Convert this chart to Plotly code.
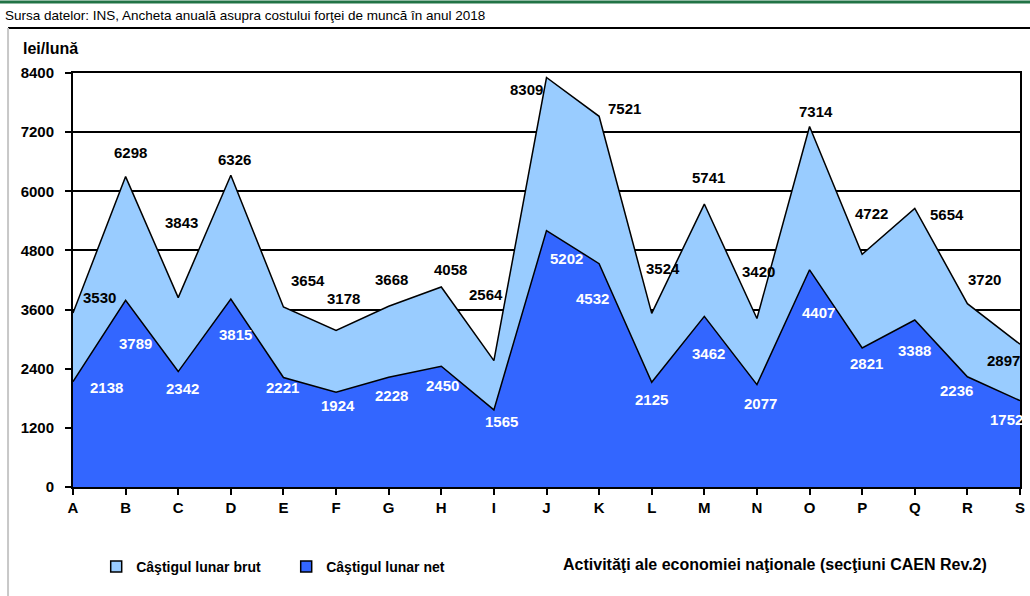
import plotly.graph_objects as go

# sectiuni CAEN Rev.2
sectiuni = ['A', 'B', 'C', 'D', 'E', 'F', 'G', 'H', 'I', 'J',
            'K', 'L', 'M', 'N', 'O', 'P', 'Q', 'R', 'S']
brut = [3530, 6298, 3843, 6326, 3654, 3178, 3668, 4058, 2564, 8309,
        7521, 3524, 5741, 3420, 7314, 4722, 5654, 3720, 2897]
net = [2138, 3789, 2342, 3815, 2221, 1924, 2228, 2450, 1565, 5202,
       4532, 2125, 3462, 2077, 4407, 2821, 3388, 2236, 1752]
y_ticks = [0, 1200, 2400, 3600, 4800, 6000, 7200, 8400]

# label offsets in px (Excel placed them by hand, more or less)
brut_dx = [26, 5, 3, 4, 25, 7, 3, 9, -8, -20, 25, 11, 4, 2, 6, 9, 32, 17, -17]
brut_dy = [16, 24, 75, 16, 26, 32, 27, 18, 66, -12, 8, 45, 27, 47, 15, 41, -6, 24, -16]
net_dx = [33, 10, 4, 5, -1, 2, 3, 1, 8, 20, -7, 0, 4, 4, 9, 4, 0, -11, -14]
net_dy = [-6, -43, -17, -36, -10, -13, -18, -19, -12, -28, -35, -17, -37, -19, -43, -16, -30, -14, -19]

FONT = 'Liberation Sans, Arial, sans-serif'
LIGHT = '#99CCFF'
DARK = '#3366FF'

fig = go.Figure()
fig.add_trace(go.Scatter(x=sectiuni, y=brut, mode='lines', fill='tozeroy',
                         fillcolor=LIGHT, line=dict(color='black', width=1.5),
                         showlegend=False, name='Câştigul lunar brut'))
fig.add_trace(go.Scatter(x=sectiuni, y=net, mode='lines', fill='tozeroy',
                         fillcolor=DARK, line=dict(color='black', width=1.5),
                         showlegend=False, name='Câştigul lunar net'))
# legend entries as small squares, like Excel
for name, col in [('Câştigul lunar brut', LIGHT), ('Câştigul lunar net', DARK)]:
    fig.add_trace(go.Scatter(x=[None], y=[None], mode='markers', name=name,
                             marker=dict(symbol='square', size=11, color=col,
                                         line=dict(color='black', width=1.5))))

annotations = []
for i, s in enumerate(sectiuni):
    annotations.append(dict(x=s, y=brut[i], text=str(brut[i]), showarrow=False,
                            xshift=brut_dx[i], yshift=brut_dy[i],
                            font=dict(family=FONT, size=15, color='black', weight='bold')))
    annotations.append(dict(x=s, y=net[i], text=str(net[i]), showarrow=False,
                            xshift=net_dx[i], yshift=net_dy[i],
                            font=dict(family=FONT, size=15, color='white', weight='bold')))

annotations.append(dict(xref='paper', yref='paper', x=-0.0739, y=1.140, xanchor='left',
                        yanchor='middle', showarrow=False,
                        text='Sursa datelor: INS, Ancheta anuală asupra costului forţei de muncă în anul 2018',
                        font=dict(family=FONT, size=13.5, color='black')))
annotations.append(dict(xref='paper', yref='paper', x=-0.0549, y=1.060, xanchor='left',
                        yanchor='middle', showarrow=False, text='lei/lună',
                        font=dict(family=FONT, size=16, color='black', weight='bold')))
annotations.append(dict(xref='paper', yref='paper', x=0.7413, y=-0.1884, xanchor='center',
                        yanchor='middle', showarrow=False,
                        text='Activităţi ale economiei naţionale (secţiuni CAEN Rev.2)',
                        font=dict(family=FONT, size=16, color='black', weight='bold')))

shapes = [
    dict(type='line', xref='paper', yref='paper', x0=-0.08, x1=1.02, y0=1.1715, y1=1.1715,
         line=dict(color='#217346', width=3)),
    dict(type='line', xref='paper', yref='paper', x0=-0.0686, x1=1.02, y0=1.1087, y1=1.1087,
         line=dict(color='black', width=2)),
    dict(type='line', xref='paper', yref='paper', x0=-0.0686, x1=-0.0686, y0=-0.27, y1=1.1087,
         line=dict(color='#c8c8c8', width=2)),
]

fig.update_layout(
    width=1030, height=596,
    margin=dict(l=73, r=10, t=73, b=109, autoexpand=False),
    paper_bgcolor='white', plot_bgcolor='white',
    font=dict(family=FONT, color='black'),
    showlegend=True,
    legend=dict(orientation='h', x=0.0245, y=-0.193, xanchor='left', yanchor='middle',
                font=dict(family=FONT, size=14, color='black', weight='bold'),
                entrywidth=145, entrywidthmode='pixels', itemwidth=30,
                bgcolor='rgba(0,0,0,0)'),
    annotations=annotations,
    shapes=shapes,
)
fig.update_xaxes(type='category', range=[0, len(sectiuni) - 1], showgrid=False,
                 showline=True, linecolor='black', linewidth=2, mirror=True,
                 ticks='outside', ticklen=6, tickwidth=2, tickcolor='black',
                 tickfont=dict(family=FONT, size=15, color='black', weight='bold'))
fig.update_yaxes(range=[0, 8400], tickvals=y_ticks, showgrid=True, gridcolor='black',
                 gridwidth=2, showline=True, linecolor='black', linewidth=2, mirror=True,
                 ticks='outside', ticklen=6, tickwidth=2, tickcolor='black',
                 ticklabelstandoff=8, zeroline=False,
                 tickfont=dict(family=FONT, size=15, color='black', weight='bold'))

# the browser's default 8px body margin would shift the whole chart
fig.write_html('out.html', config={'displayModeBar': False},
               post_script="document.body.style.margin = '0';")
